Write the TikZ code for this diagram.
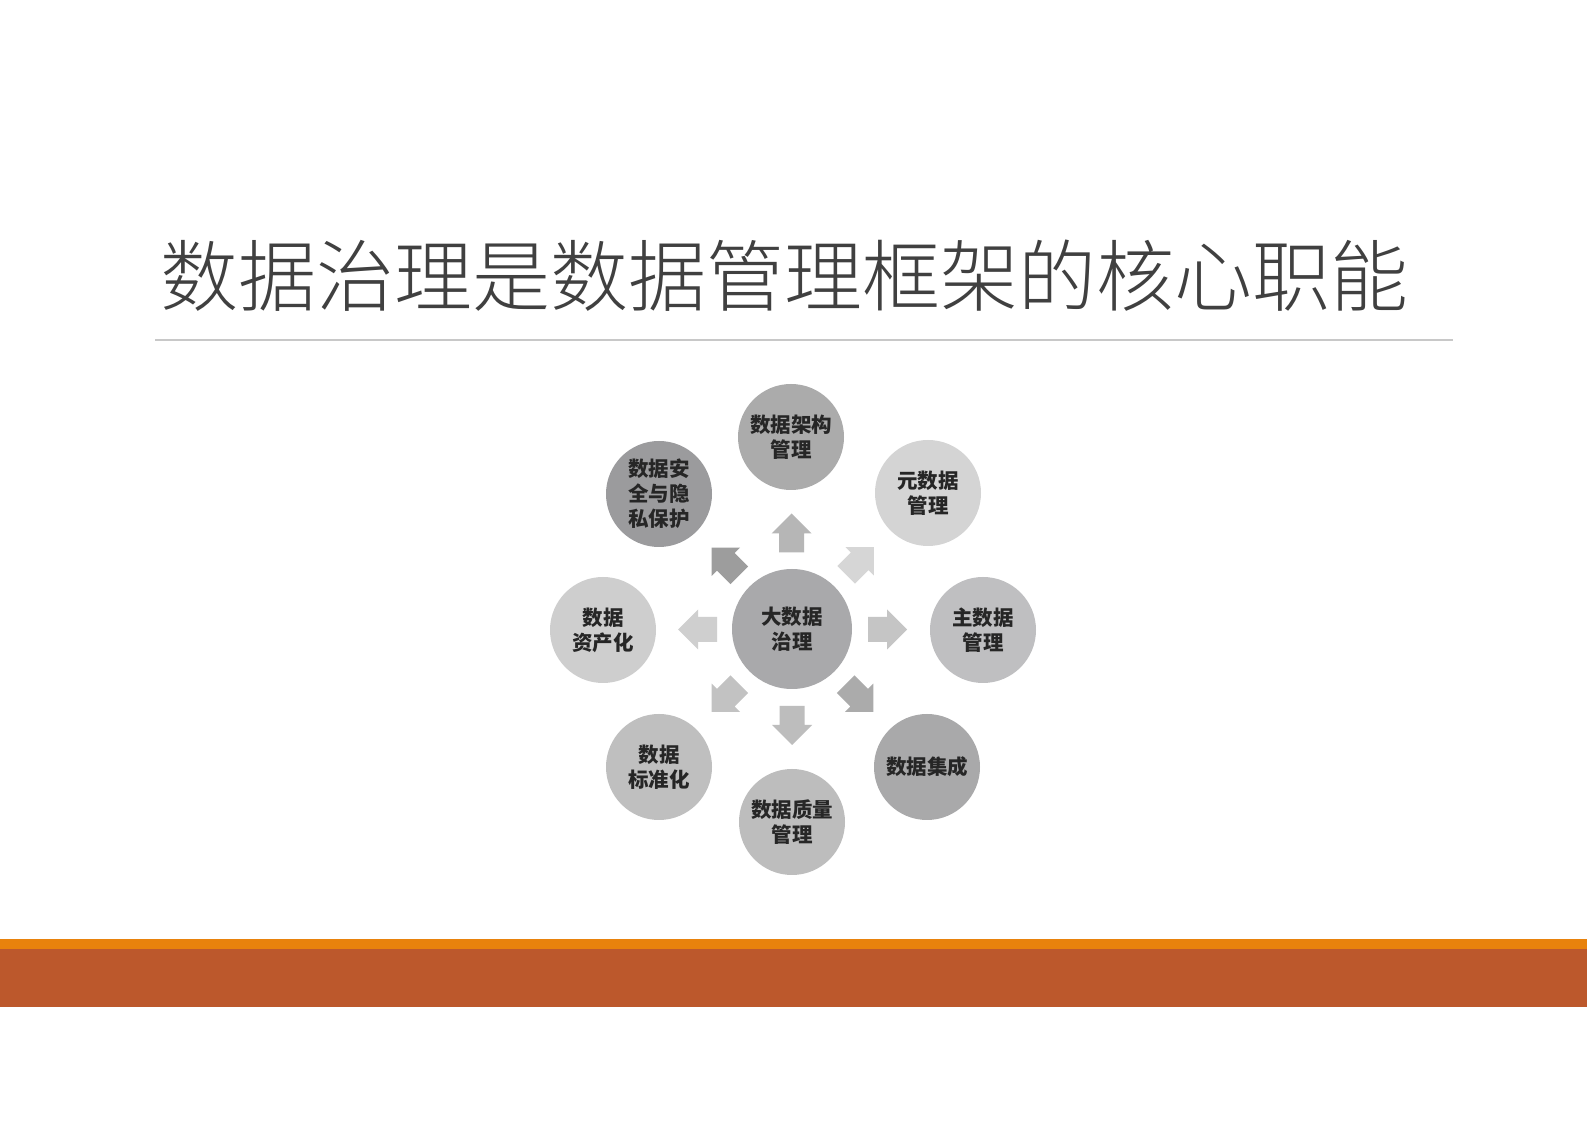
\documentclass[tikz,border=0pt]{standalone}
\usepackage{fontspec}
\newfontfamily\cjk{Noto Sans CJK SC}
\newfontfamily\cjklight{Noto Sans CJK SC}[UprightFont={* Light}]
\usetikzlibrary{calc}
\definecolor{titlegray}{HTML}{404040}
\definecolor{rulegray}{HTML}{C8C8C8}
\definecolor{barorange}{HTML}{E8820C}
\definecolor{barbrown}{HTML}{BC582C}
\definecolor{cC}{HTML}{A9A9AB}
\definecolor{cN}{HTML}{ABABAB}
\definecolor{cNE}{HTML}{D4D4D4}
\definecolor{cE}{HTML}{BFBFC1}
\definecolor{cSE}{HTML}{A9A9AA}
\definecolor{cS}{HTML}{BDBDBD}
\definecolor{cSW}{HTML}{BFBFBF}
\definecolor{cW}{HTML}{CECECE}
\definecolor{cNW}{HTML}{9B9B9D}
\definecolor{aN}{HTML}{B6B6B6}
\definecolor{aNE}{HTML}{D6D6D6}
\definecolor{aE}{HTML}{C5C5C5}
\definecolor{aSE}{HTML}{ABABAB}
\definecolor{aS}{HTML}{BDBDBD}
\definecolor{aSW}{HTML}{C2C2C2}
\definecolor{aW}{HTML}{CFCFCF}
\definecolor{aNW}{HTML}{9D9D9D}
\begin{document}
\begin{tikzpicture}[x=0.5pt,y=-0.5pt,
  bub/.style={circle, inner sep=0pt, minimum size=53pt, fill=#1, align=center,
    font=\cjk\bfseries\fontsize{10.25}{12.5}\selectfont, text=black!85},
  hub/.style={bub=#1, minimum size=60pt},
  titletext/.style={anchor=west, inner sep=0pt, text=titlegray,
    font=\cjklight\fontsize{39}{39}\selectfont},
  rule/.style={draw=rulegray, line width=0.8pt},
  blockarrow/.style={fill=#1, draw=none}
]
\fill[white] (0,0) rectangle (1587,1122);
\useasboundingbox (0,0) rectangle (1587,1122);

% title and rule
\node[titletext] (title) at (160,276) {数据治理是数据管理框架的核心职能};
\coordinate (ruleL) at (155,340);
\coordinate (ruleR) at (1453,340);
\draw[rule] (ruleL) -- (ruleR);

% bottom bars
\fill[barorange] (0,939) rectangle (1587,949);
\fill[barbrown] (0,949) rectangle (1587,1007);

% hub and satellites
\node[hub=cC] (c) at (792,629) {大数据\\治理};
\node[bub=cN]  (n)  at (791,437) {数据架构\\管理};
\node[bub=cNE] (ne) at (928,493) {元数据\\管理};
\node[bub=cE]  (e)  at (983,630) {主数据\\管理};
\node[bub=cSE] (se) at (927,767) {数据集成};
\node[bub=cS]  (s)  at (792,822) {数据质量\\管理};
\node[bub=cSW] (sw) at (659,767) {数据\\标准化};
\node[bub=cW]  (w)  at (603,630) {数据\\资产化};
\node[bub=cNW] (nw) at (659,494) {数据安\\全与隐\\私保护};

% block arrows from hub toward each satellite
\foreach \t/\a/\col in {n/90/aN, ne/45/aNE, e/0/aE, se/-45/aSE, s/-90/aS, sw/-135/aSW, w/180/aW, nw/135/aNW}{
  \begin{scope}[shift={($(c)!0.5!(\t)$)}, rotate=\a]
    \fill[blockarrow=\col] (-19.5,-12.5) -- (-0.5,-12.5) -- (-0.5,-20) -- (19.5,0)
      -- (-0.5,20) -- (-0.5,12.5) -- (-19.5,12.5) -- cycle;
  \end{scope}
}
\end{tikzpicture}
\end{document}
